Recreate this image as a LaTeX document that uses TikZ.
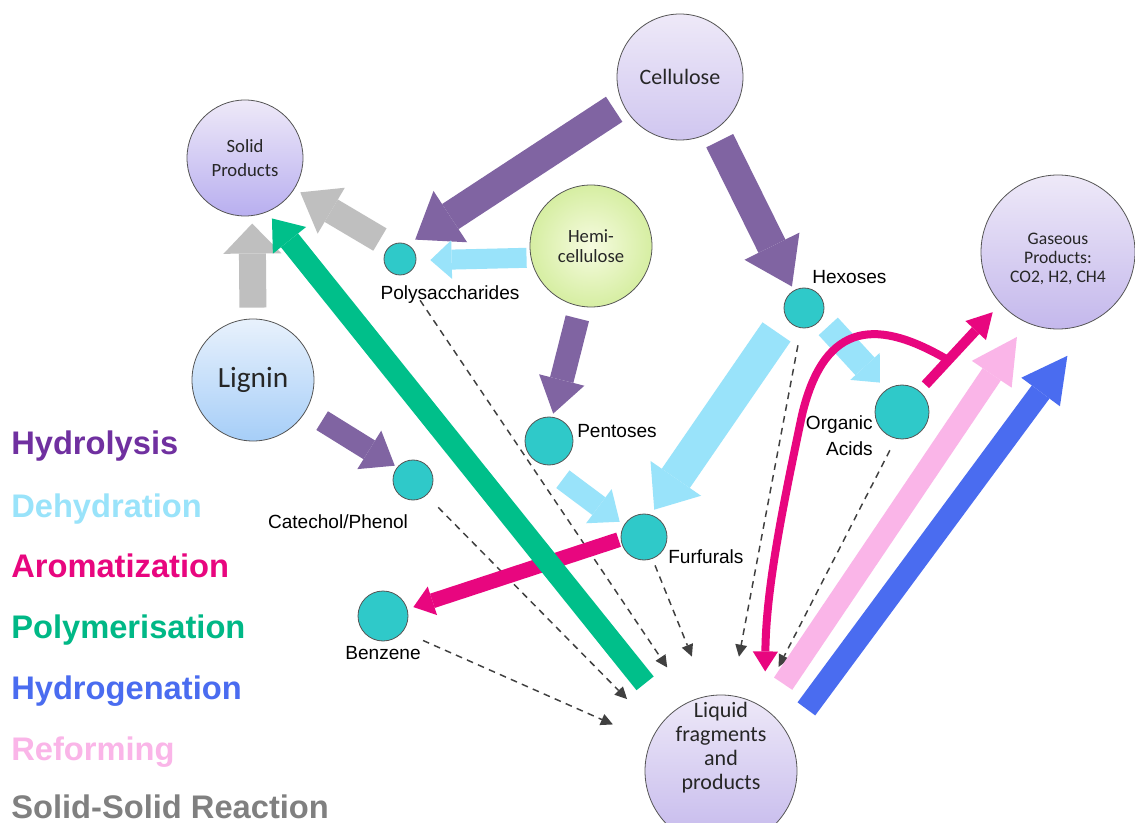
\documentclass[tikz,border=0pt]{standalone}
\usepackage{fontspec}
\setmainfont{Carlito}
\newfontfamily\arialf{Liberation Sans}
\usetikzlibrary{arrows.meta}
\definecolor{hydro}{HTML}{8064A2}
\definecolor{hydroT}{HTML}{7030A0}
\definecolor{dehyd}{HTML}{99E3FA}
\definecolor{arom}{HTML}{E8067F}
\definecolor{polyc}{HTML}{00BF8A}
\definecolor{polyT}{HTML}{00B886}
\definecolor{hydrog}{HTML}{4A6CF0}
\definecolor{reform}{HTML}{FAB5E8}
\definecolor{solidc}{HTML}{BFBFBF}
\definecolor{solidT}{HTML}{808080}
\definecolor{tealc}{HTML}{2FC9C9}
\definecolor{bord}{HTML}{555555}
\definecolor{dashc}{HTML}{404040}
\definecolor{lavT}{HTML}{EEE9F8}
\definecolor{lavB}{HTML}{C4B8EC}
\definecolor{ligT}{HTML}{E8F1FC}
\definecolor{ligB}{HTML}{A6CEF8}
\definecolor{hemiI}{HTML}{F6FBE0}
\definecolor{hemiO}{HTML}{D6EEA2}
\tikzset{
  bignode/.style={circle, draw=bord, line width=0.6pt, inner sep=0pt, align=center, text=black!85, minimum size=#1},
  smallnode/.style={circle, draw=bord, line width=0.6pt, fill=tealc, inner sep=0pt, minimum size=#1},
  lbl/.style={font=\arialf\fontsize{14.3}{19.5}\selectfont, text=black, inner sep=0pt},
  legend/.style={anchor=base west, inner sep=0pt, font=\arialf\bfseries\fontsize{24.5}{28}\selectfont},
  blk/.style n args={3}{line width=#1, -{Triangle[length=#2, width=#3, line width=0pt]}},
  dsh/.style={draw=dashc, line width=1.1pt, dash pattern=on 5pt off 4pt, -{Triangle[length=9pt, width=9pt, line width=0pt]}},
}
\begin{document}
\begin{tikzpicture}[x=0.75pt,y=-0.75pt]
\useasboundingbox (0,0) rectangle (1135,823);
\clip (0,0) rectangle (1135,823);
\fill[white] (0,0) rectangle (1135,823);

% big nodes
\node[bignode=94.5pt, top color=lavT, bottom color=lavB!80!white, font=\fontsize{16.5}{20}\selectfont] (cell) at (680,77) {Cellulose};
\node[bignode=87pt, top color=lavT, bottom color=lavB!90!blue!90, font=\fontsize{14}{18}\selectfont] (solid) at (245,158) {Solid\\Products};
\node[bignode=91.5pt, inner color=hemiI, outer color=hemiO, font=\fontsize{14}{14.5}\selectfont] (hemi) at (591,246) {Hemi-\\cellulose};
\node[bignode=91.5pt, top color=ligT, bottom color=ligB, font=\fontsize{22}{26}\selectfont] (lignin) at (253,380) {Lignin};
\node[bignode=115.5pt, top color=lavT, bottom color=lavB] (gas) at (1058,252) {};
\node[align=center, inner sep=0pt, text=black!85, font=\fontsize{13.2}{14.2}\selectfont] (gast) at (1058,259) {Gaseous\\Products:\\CO2, H2, CH4};
\node[bignode=114pt, top color=lavT, bottom color=lavB] (liq) at (721,771) {};
\node[align=center, inner sep=0pt, text=black!85, font=\fontsize{16.5}{18}\selectfont] (liqt) at (721,748) {Liquid\\fragments\\and\\products};

% small nodes
\node[smallnode=24pt] (poly) at (400,259) {};
\node[smallnode=30pt] (hex) at (804,308) {};
\node[smallnode=40.5pt] (org) at (902,412) {};
\node[smallnode=36pt] (pent) at (549,441) {};
\node[smallnode=30pt] (cat) at (413,480) {};
\node[smallnode=34.5pt] (furf) at (644,537) {};
\node[smallnode=37.5pt] (benz) at (383,616) {};

% labels
\node[lbl] (polyl) at (450,295) {Polysaccharides};
\node[lbl, anchor=west] (hexl) at (812,277) {Hexoses};
\node[lbl, anchor=east, align=right] (orgl) at (873,436) {Organic\\Acids};
\node[lbl, anchor=west] (pentl) at (577,431) {Pentoses};
\node[lbl] (catl) at (338,522) {Catechol/Phenol};
\node[lbl, anchor=west] (furfl) at (668,557) {Furfurals};
\node[lbl] (benzl) at (383,653) {Benzene};

% solid-solid (gray)
\draw[solidc, blk={19.5pt}{27pt}{40pt}, shorten <=9.1pt, shorten >=5pt] (poly.126.9) -- (solid.328.2);
\draw[solidc, blk={20.25pt}{22.5pt}{43.5pt}, shorten <=8.25pt, shorten >=5.7pt] (lignin.90) -- (solid.277.9);

% hydrolysis (purple)
\draw[hydro, blk={22.5pt}{31.5pt}{46pt}, shorten <=7.5pt, shorten >=6.7pt] (cell.205.9) -- (poly.62);
\draw[hydro, blk={22.5pt}{33.75pt}{46pt}, shorten <=8.8pt, shorten >=3.2pt] (cell.303.6) -- (hex.120.7);
\draw[hydro, blk={18pt}{26pt}{35pt}, shorten <=9.15pt, shorten >=2.5pt] (hemi.260.7) -- (pent.82.3);
\draw[hydro, blk={16.5pt}{22.5pt}{34pt}, shorten <=14.1pt, shorten >=2.1pt] (lignin.330.5) -- (cat.141.3);

% dehydration (light blue)
\draw[dehyd, blk={15pt}{16pt}{29pt}, shorten <=3.15pt, shorten >=10.5pt] (hemi.191.3) -- (poly.355.4);
\draw[dehyd, blk={25.5pt}{28.5pt}{46pt}, shorten <=12.8pt, shorten >=4.5pt] (hex.209.8) -- (furf.73.4);
\draw[dehyd, blk={16.5pt}{19.5pt}{32pt}, shorten <=18.1pt, shorten >=4pt] (pent.257.5) -- (furf.149.2);
\draw[dehyd, blk={19.5pt}{16.5pt}{30pt}, shorten <=7.7pt, shorten >=7.1pt] (hex.328.7) -- (org.125.3);

% dashed connectors to liquid
\draw[dsh, shorten <=22.8pt, shorten >=30.5pt] (poly.281.1) -- (liq.114.3);
\draw[dsh, shorten <=12.6pt, shorten >=31.9pt] (cat.311.3) -- (liq.147.7);
\draw[dsh, shorten <=16.4pt, shorten >=31pt] (benz.322.9) -- (liq.157.5);
\draw[dsh, shorten <=5.3pt, shorten >=31.7pt] (furf.291.4) -- (liq.100);
\draw[dsh, shorten <=13.1pt, shorten >=29.5pt] (hex.262.2) -- (liq.82.7);
\draw[dsh, shorten <=9.8pt, shorten >=32pt] (org.257.2) -- (liq.60.5);

% aromatization (magenta)
\draw[arom, blk={11.25pt}{15pt}{22.5pt}, shorten <=1.65pt, shorten >=4.7pt] (furf.185.7) -- (benz.16.5);
\draw[arom, blk={7.5pt}{18.75pt}{21pt}, shorten <=6.4pt, shorten >=8.6pt] (org.50.4) -- (gas.222.1);
\coordinate (mj) at (948,360);
\draw[arom, line width=6pt, -{Triangle[length=15pt, width=19pt, line width=0pt]}, shorten >=27.75pt] (mj) .. controls (880,320) and (825,318) .. (802,415) .. controls (782,510) and (766,590) .. (liq.55);

% polymerisation (green)
\draw[polyc, blk={16.5pt}{21pt}{32pt}, shorten <=29.7pt, shorten >=6.1pt] (liq.132.4) -- (solid.292.2);

% reforming (pink) and hydrogenation (blue)
\draw[reform, blk={16.5pt}{33.75pt}{36pt}, shorten <=23.1pt, shorten >=12.9pt] (liq.54) -- (gas.246.8);
\draw[hydrog, blk={16.5pt}{33.75pt}{36pt}, shorten <=23.4pt, shorten >=32.5pt] (liq.29.1) -- (gas.297.7);

% legend
\node[legend, text=hydroT] (lg1) at (11,455) {Hydrolysis};
\node[legend, text=dehyd] (lg2) at (11,517) {Dehydration};
\node[legend, text=arom] (lg3) at (11,577) {Aromatization};
\node[legend, text=polyT] (lg4) at (11,638) {Polymerisation};
\node[legend, text=hydrog] (lg5) at (11,699) {Hydrogenation};
\node[legend, text=reform] (lg6) at (11,760) {Reforming};
\node[legend, text=solidT] (lg7) at (11,818) {Solid-Solid Reaction};
\end{tikzpicture}
\end{document}
